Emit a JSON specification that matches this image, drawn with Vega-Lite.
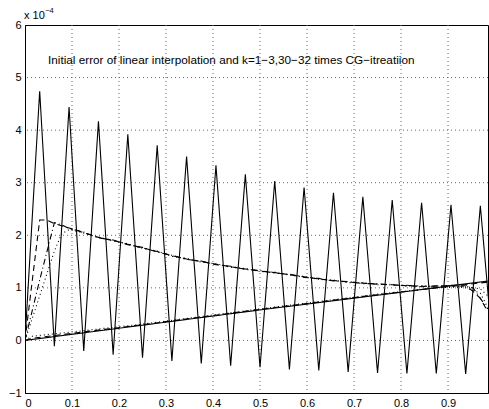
{
  "$schema": "https://vega.github.io/schema/vega-lite/v6.json",
  "autosize": "none",
  "padding": {"left": 25, "top": 25, "right": 1, "bottom": 16},
  "width": 463,
  "height": 368,
  "background": "white",
  "config": {
    "view": {"stroke": "black", "strokeWidth": 1},
    "font": "Liberation Sans",
    "axis": {
      "domainColor": "black",
      "tickColor": "black",
      "labelColor": "black",
      "labelFont": "Liberation Sans",
      "labelFontSize": 11,
      "grid": false,
      "ticks": false,
      "labelOverlap": false,
      "title": null
    }
  },
  "resolve": {"axis": {"x": "independent", "y": "independent"}},
  "datasets": {
    "gridx": [{"gx": 0.1}, {"gx": 0.2}, {"gx": 0.3}, {"gx": 0.4}, {"gx": 0.5}, {"gx": 0.6}, {"gx": 0.7}, {"gx": 0.8}, {"gx": 0.9}],
    "gridy": [{"gy": 0}, {"gy": 0.0001}, {"gy": 0.0002}, {"gy": 0.0003}, {"gy": 0.0004}, {"gy": 0.0005}],
    "curves": [
      {"series": "initial", "x": 0, "y": 0},
      {"series": "initial", "x": 0.03125, "y": 0.000474},
      {"series": "initial", "x": 0.0625, "y": -0.000011},
      {"series": "initial", "x": 0.09375, "y": 0.000444},
      {"series": "initial", "x": 0.125, "y": -0.00002},
      {"series": "initial", "x": 0.15625, "y": 0.000417},
      {"series": "initial", "x": 0.1875, "y": -0.000027},
      {"series": "initial", "x": 0.21875, "y": 0.000392},
      {"series": "initial", "x": 0.25, "y": -0.000033},
      {"series": "initial", "x": 0.28125, "y": 0.000371},
      {"series": "initial", "x": 0.3125, "y": -0.000039},
      {"series": "initial", "x": 0.34375, "y": 0.00035},
      {"series": "initial", "x": 0.375, "y": -0.000044},
      {"series": "initial", "x": 0.40625, "y": 0.000333},
      {"series": "initial", "x": 0.4375, "y": -0.000048},
      {"series": "initial", "x": 0.46875, "y": 0.000316},
      {"series": "initial", "x": 0.5, "y": -0.000051},
      {"series": "initial", "x": 0.53125, "y": 0.000303},
      {"series": "initial", "x": 0.5625, "y": -0.000055},
      {"series": "initial", "x": 0.59375, "y": 0.000291},
      {"series": "initial", "x": 0.625, "y": -0.000057},
      {"series": "initial", "x": 0.65625, "y": 0.000281},
      {"series": "initial", "x": 0.6875, "y": -0.00006},
      {"series": "initial", "x": 0.71875, "y": 0.000273},
      {"series": "initial", "x": 0.75, "y": -0.000062},
      {"series": "initial", "x": 0.78125, "y": 0.000267},
      {"series": "initial", "x": 0.8125, "y": -0.000063},
      {"series": "initial", "x": 0.84375, "y": 0.000262},
      {"series": "initial", "x": 0.875, "y": -0.000063},
      {"series": "initial", "x": 0.90625, "y": 0.000258},
      {"series": "initial", "x": 0.9375, "y": -0.000064},
      {"series": "initial", "x": 0.96875, "y": 0.000256},
      {"series": "initial", "x": 1, "y": -0.000064},

      {"series": "k1", "x": 0, "y": 0},
      {"series": "k1", "x": 0.015625, "y": 0.000115},
      {"series": "k1", "x": 0.03125, "y": 0.000229},
      {"series": "k1", "x": 0.046875, "y": 0.000229},
      {"series": "k1", "x": 0.0625, "y": 0.000222},
      {"series": "k1", "x": 0.09375, "y": 0.000214},
      {"series": "k1", "x": 0.125, "y": 0.000205},
      {"series": "k1", "x": 0.15625, "y": 0.000196},
      {"series": "k1", "x": 0.1875, "y": 0.00019},
      {"series": "k1", "x": 0.21875, "y": 0.000183},
      {"series": "k1", "x": 0.25, "y": 0.000176},
      {"series": "k1", "x": 0.28125, "y": 0.000169},
      {"series": "k1", "x": 0.3125, "y": 0.000161},
      {"series": "k1", "x": 0.34375, "y": 0.000155},
      {"series": "k1", "x": 0.375, "y": 0.00015},
      {"series": "k1", "x": 0.40625, "y": 0.000145},
      {"series": "k1", "x": 0.4375, "y": 0.00014},
      {"series": "k1", "x": 0.46875, "y": 0.000136},
      {"series": "k1", "x": 0.5, "y": 0.000132},
      {"series": "k1", "x": 0.53125, "y": 0.000129},
      {"series": "k1", "x": 0.5625, "y": 0.000125},
      {"series": "k1", "x": 0.59375, "y": 0.000121},
      {"series": "k1", "x": 0.625, "y": 0.000117},
      {"series": "k1", "x": 0.65625, "y": 0.000114},
      {"series": "k1", "x": 0.6875, "y": 0.000111},
      {"series": "k1", "x": 0.71875, "y": 0.000109},
      {"series": "k1", "x": 0.75, "y": 0.000107},
      {"series": "k1", "x": 0.78125, "y": 0.000106},
      {"series": "k1", "x": 0.8125, "y": 0.000104},
      {"series": "k1", "x": 0.84375, "y": 0.000103},
      {"series": "k1", "x": 0.875, "y": 0.000103},
      {"series": "k1", "x": 0.90625, "y": 0.000105},
      {"series": "k1", "x": 0.9375, "y": 0.000106},
      {"series": "k1", "x": 0.96875, "y": 0.00008},
      {"series": "k1", "x": 0.984375, "y": 0.000055},

      {"series": "k2", "x": 0, "y": 0},
      {"series": "k2", "x": 0.03125, "y": 0.000115},
      {"series": "k2", "x": 0.0625, "y": 0.000224},
      {"series": "k2", "x": 0.078125, "y": 0.00022},
      {"series": "k2", "x": 0.09375, "y": 0.000213},
      {"series": "k2", "x": 0.125, "y": 0.000206},
      {"series": "k2", "x": 0.15625, "y": 0.000195},
      {"series": "k2", "x": 0.1875, "y": 0.000191},
      {"series": "k2", "x": 0.21875, "y": 0.000182},
      {"series": "k2", "x": 0.25, "y": 0.000177},
      {"series": "k2", "x": 0.28125, "y": 0.000168},
      {"series": "k2", "x": 0.3125, "y": 0.000162},
      {"series": "k2", "x": 0.34375, "y": 0.000154},
      {"series": "k2", "x": 0.375, "y": 0.000151},
      {"series": "k2", "x": 0.40625, "y": 0.000144},
      {"series": "k2", "x": 0.4375, "y": 0.000141},
      {"series": "k2", "x": 0.46875, "y": 0.000135},
      {"series": "k2", "x": 0.5, "y": 0.000133},
      {"series": "k2", "x": 0.53125, "y": 0.000128},
      {"series": "k2", "x": 0.5625, "y": 0.000126},
      {"series": "k2", "x": 0.59375, "y": 0.00012},
      {"series": "k2", "x": 0.625, "y": 0.000118},
      {"series": "k2", "x": 0.65625, "y": 0.000113},
      {"series": "k2", "x": 0.6875, "y": 0.000112},
      {"series": "k2", "x": 0.71875, "y": 0.000108},
      {"series": "k2", "x": 0.75, "y": 0.000108},
      {"series": "k2", "x": 0.78125, "y": 0.000105},
      {"series": "k2", "x": 0.8125, "y": 0.000105},
      {"series": "k2", "x": 0.84375, "y": 0.000102},
      {"series": "k2", "x": 0.875, "y": 0.000104},
      {"series": "k2", "x": 0.90625, "y": 0.000104},
      {"series": "k2", "x": 0.9375, "y": 0.000103},
      {"series": "k2", "x": 0.953125, "y": 0.0001},
      {"series": "k2", "x": 0.984375, "y": 0.00006},

      {"series": "k3", "x": 0, "y": 0},
      {"series": "k3", "x": 0.03125, "y": 0.000085},
      {"series": "k3", "x": 0.0625, "y": 0.00017},
      {"series": "k3", "x": 0.078125, "y": 0.000203},
      {"series": "k3", "x": 0.09375, "y": 0.000211},
      {"series": "k3", "x": 0.125, "y": 0.000204},
      {"series": "k3", "x": 0.15625, "y": 0.000197},
      {"series": "k3", "x": 0.1875, "y": 0.000189},
      {"series": "k3", "x": 0.21875, "y": 0.000184},
      {"series": "k3", "x": 0.25, "y": 0.000175},
      {"series": "k3", "x": 0.28125, "y": 0.00017},
      {"series": "k3", "x": 0.3125, "y": 0.00016},
      {"series": "k3", "x": 0.34375, "y": 0.000156},
      {"series": "k3", "x": 0.375, "y": 0.000149},
      {"series": "k3", "x": 0.40625, "y": 0.000146},
      {"series": "k3", "x": 0.4375, "y": 0.000139},
      {"series": "k3", "x": 0.46875, "y": 0.000137},
      {"series": "k3", "x": 0.5, "y": 0.000131},
      {"series": "k3", "x": 0.53125, "y": 0.00013},
      {"series": "k3", "x": 0.5625, "y": 0.000124},
      {"series": "k3", "x": 0.59375, "y": 0.000122},
      {"series": "k3", "x": 0.625, "y": 0.000116},
      {"series": "k3", "x": 0.65625, "y": 0.000115},
      {"series": "k3", "x": 0.6875, "y": 0.00011},
      {"series": "k3", "x": 0.71875, "y": 0.00011},
      {"series": "k3", "x": 0.75, "y": 0.000106},
      {"series": "k3", "x": 0.78125, "y": 0.000107},
      {"series": "k3", "x": 0.8125, "y": 0.000103},
      {"series": "k3", "x": 0.84375, "y": 0.000104},
      {"series": "k3", "x": 0.875, "y": 0.000102},
      {"series": "k3", "x": 0.90625, "y": 0.000103},
      {"series": "k3", "x": 0.9375, "y": 0.0001},
      {"series": "k3", "x": 0.96875, "y": 0.00009},
      {"series": "k3", "x": 0.984375, "y": 0.000063},

      {"series": "k30", "x": 0, "y": 0},
      {"series": "k30", "x": 0.25, "y": 0.000029},
      {"series": "k30", "x": 0.5, "y": 0.000058},
      {"series": "k30", "x": 0.75, "y": 0.000086},
      {"series": "k30", "x": 0.984375, "y": 0.000113},

      {"series": "k31", "x": 0, "y": 0},
      {"series": "k31", "x": 0.015625, "y": 0.000004},
      {"series": "k31", "x": 0.25, "y": 0.00003},
      {"series": "k31", "x": 0.5, "y": 0.000059},
      {"series": "k31", "x": 0.75, "y": 0.000087},
      {"series": "k31", "x": 0.875, "y": 0.0001},
      {"series": "k31", "x": 0.9375, "y": 0.000106},
      {"series": "k31", "x": 0.984375, "y": 0.000111},

      {"series": "k32", "x": 0, "y": 0},
      {"series": "k32", "x": 0.015625, "y": 0.000008},
      {"series": "k32", "x": 0.25, "y": 0.000031},
      {"series": "k32", "x": 0.5, "y": 0.00006},
      {"series": "k32", "x": 0.75, "y": 0.000088},
      {"series": "k32", "x": 0.875, "y": 0.0001},
      {"series": "k32", "x": 0.9375, "y": 0.000102},
      {"series": "k32", "x": 0.96875, "y": 0.000098},
      {"series": "k32", "x": 0.984375, "y": 0.000085}
    ],
    "labels": [
      {"label": "Initial error of linear interpolation and k=1−3,30−32 times CG−itreatiion"}
    ]
  },
  "layer": [
    {
      "data": {"name": "gridx"},
      "mark": {"type": "rule", "color": "#666", "strokeWidth": 1, "strokeDash": [1, 3]},
      "encoding": {
        "x": {"field": "gx", "type": "quantitative",
          "scale": {"domain": [0, 0.985], "nice": false, "zero": false}, "axis": null}
      }
    },
    {
      "data": {"name": "gridy"},
      "mark": {"type": "rule", "color": "#666", "strokeWidth": 1, "strokeDash": [1, 3]},
      "encoding": {
        "y": {"field": "gy", "type": "quantitative",
          "scale": {"domain": [-0.0001, 0.0006], "nice": false, "zero": false}, "axis": null}
      }
    },
    {
      "data": {"name": "curves"},
      "mark": {"type": "line", "color": "black", "strokeWidth": 1.1, "clip": true},
      "encoding": {
        "x": {
          "field": "x", "type": "quantitative",
          "scale": {"domain": [0, 0.985], "nice": false, "zero": false},
          "axis": {
            "values": [0, 0.1, 0.2, 0.3, 0.4, 0.5, 0.6, 0.7, 0.8, 0.9],
            "labelExpr": "datum.value == 0 ? '0' : format(datum.value, '.1f')",
            "labelPadding": 4
          }
        },
        "y": {
          "field": "y", "type": "quantitative",
          "scale": {"domain": [-0.0001, 0.0006], "nice": false, "zero": false},
          "axis": {
            "values": [-0.0001, 0, 0.0001, 0.0002, 0.0003, 0.0004, 0.0005, 0.0006],
            "labelExpr": "format(datum.value * 10000, 'd')",
            "labelPadding": 4
          }
        },
        "detail": {"field": "series"},
        "strokeDash": {
          "field": "series", "type": "nominal", "legend": null,
          "scale": {
            "domain": ["initial", "k1", "k2", "k3", "k30", "k31", "k32"],
            "range": [[1, 0], [6, 4], [6, 3, 1, 3], [1, 3], [1, 0], [6, 4], [1, 3]]
          }
        }
      }
    },
    {
      "data": {"name": "labels"},
      "mark": {"type": "text", "align": "left", "baseline": "middle", "fontSize": 11.75, "font": "Liberation Sans", "color": "black"},
      "encoding": {
        "x": {"datum": 0.049, "type": "quantitative",
          "scale": {"domain": [0, 0.985], "nice": false, "zero": false}, "axis": null},
        "y": {"datum": 0.000534, "type": "quantitative",
          "scale": {"domain": [-0.0001, 0.0006], "nice": false, "zero": false}, "axis": null},
        "text": {"field": "label"}
      }
    },
    {
      "data": {"name": "labels"},
      "mark": {"type": "text", "align": "left", "baseline": "middle", "fontSize": 11, "font": "Liberation Sans", "color": "black"},
      "encoding": {
        "x": {"datum": -0.002, "type": "quantitative",
          "scale": {"domain": [0, 0.985], "nice": false, "zero": false}, "axis": null},
        "y": {"datum": 0.0006178, "type": "quantitative",
          "scale": {"domain": [-0.0001, 0.0006], "nice": false, "zero": false}, "axis": null},
        "text": {"value": "x 10"}
      }
    },
    {
      "data": {"name": "labels"},
      "mark": {"type": "text", "align": "left", "baseline": "middle", "fontSize": 7.5, "font": "Liberation Sans", "color": "black"},
      "encoding": {
        "x": {"datum": 0.043, "type": "quantitative",
          "scale": {"domain": [0, 0.985], "nice": false, "zero": false}, "axis": null},
        "y": {"datum": 0.0006265, "type": "quantitative",
          "scale": {"domain": [-0.0001, 0.0006], "nice": false, "zero": false}, "axis": null},
        "text": {"value": "−4"}
      }
    }
  ]
}
